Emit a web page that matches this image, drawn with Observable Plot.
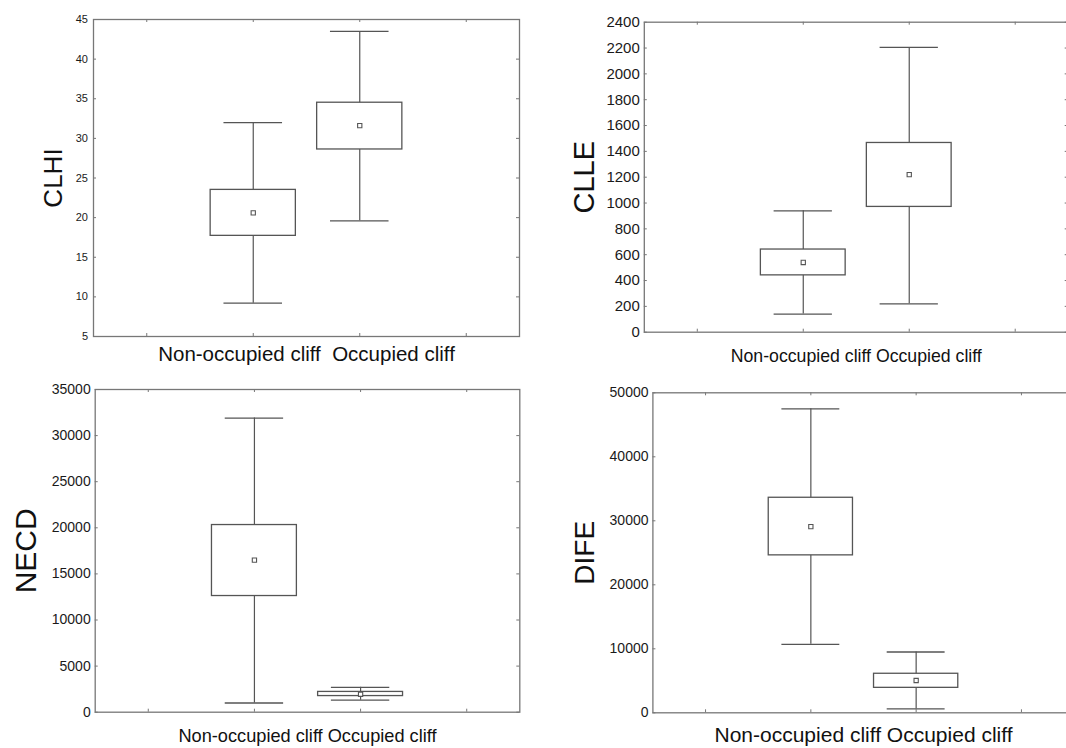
<!DOCTYPE html>
<html>
<head>
<meta charset="utf-8">
<script src="https://cdn.jsdelivr.net/npm/d3@7"></script>
<script src="https://cdn.jsdelivr.net/npm/@observablehq/plot@0.6"></script>
<style>
  html, body { margin: 0; padding: 0; background: #fff; width: 1066px; height: 748px; overflow: hidden; }
  #wrap { position: relative; width: 1066px; height: 748px; overflow: hidden; }
  .panel { position: absolute; }
</style>
</head>
<body>
<div id="wrap"></div>
<script>
// ---- data ----
const groups = ["Non-occupied cliff", "Occupied cliff"];
const xLabel = ["Non-occupied cliff  Occupied cliff", "Non-occupied cliff Occupied cliff"];
// stats per group: [whisker low, box low, mean, box high, whisker high]
const clhiValues = [[9.2, 17.7, 20.6, 23.5, 32.0], [19.6, 28.6, 31.6, 34.5, 43.5]];
const clleValues = [[140, 440, 540, 640, 940], [220, 970, 1220, 1465, 2205]];
const necdValues = [[1000, 12600, 16500, 20300, 31900], [1300, 1750, 1950, 2200, 2700]];
const difeValues = [[10700, 24600, 29100, 33600, 47500], [600, 3900, 5050, 6100, 9500]];
const clhiTicks = [5, 10, 15, 20, 25, 30, 35, 40, 45];
const clleTicks = [0, 200, 400, 600, 800, 1000, 1200, 1400, 1600, 1800, 2000, 2200, 2400];
const necdTicks = [0, 5000, 10000, 15000, 20000, 25000, 30000, 35000];
const difeTicks = [0, 10000, 20000, 30000, 40000, 50000];
const xTicks = [-1, 0, 1, 2];

const FONT = "'Liberation Sans', Arial, sans-serif";
const LINE = "#555";
const FRAME = "#777";
const TEXT = "#1a1a1a";

function rows(values) {
  return values.map((v, i) => ({
    group: groups[i], i,
    lo: v[0], q1: v[1], mean: v[2], q3: v[3], hi: v[4]
  }));
}

function panel(cfg) {
  const data = rows(cfg.values);
  const ticks = cfg.ticks;
  const pw = cfg.width - cfg.ml - cfg.mr;
  const ph = cfg.height - cfg.mt - cfg.mb;
  const half = 0.4, cap = 0.275, tk = 3;
  const chart = Plot.plot({
    width: cfg.width,
    height: cfg.height,
    marginLeft: cfg.ml,
    marginRight: cfg.mr,
    marginTop: cfg.mt,
    marginBottom: cfg.mb,
    style: { fontFamily: FONT, background: "transparent", overflow: "visible" },
    x: { type: "linear", domain: [-1.5, 2.5], axis: null },
    y: { domain: [ticks[0], ticks[ticks.length - 1]], axis: null },
    marks: [
      // y tick labels
      Plot.axisY(ticks, { anchor: "left", tickSize: 0, tickPadding: cfg.pad, fontSize: cfg.tickFont, color: TEXT, label: null, tickFormat: d => String(d) }),
      // inward tick marks (left, right, top, bottom)
      Plot.tickY(ticks, { y: d => d, stroke: FRAME, insetRight: pw - tk }),
      Plot.tickY(ticks, { y: d => d, stroke: FRAME, insetLeft: pw - tk }),
      Plot.tickX(xTicks, { x: d => d, stroke: FRAME, insetBottom: ph - tk }),
      Plot.tickX(xTicks, { x: d => d, stroke: FRAME, insetTop: ph - tk }),
      // whiskers
      Plot.ruleX(data, { x: "i", y1: "lo", y2: "hi", stroke: LINE, strokeWidth: 1.2 }),
      Plot.ruleY(data, { y: "lo", x1: d => d.i - cap, x2: d => d.i + cap, stroke: LINE, strokeWidth: 1.3 }),
      Plot.ruleY(data, { y: "hi", x1: d => d.i - cap, x2: d => d.i + cap, stroke: LINE, strokeWidth: 1.3 }),
      // boxes
      Plot.rect(data, { x1: d => d.i - half, x2: d => d.i + half, y1: "q1", y2: "q3", fill: "white", stroke: LINE, strokeWidth: 1.3 }),
      // mean
      Plot.dot(data, { x: "i", y: "mean", symbol: "square", r: 2.4, stroke: LINE, strokeWidth: 1.1, fill: "white" }),
      // frame
      Plot.frame({ stroke: FRAME, strokeWidth: 1.3 }),
      // y title
      Plot.text([cfg.title], { text: d => d, frameAnchor: "left", rotate: -90, dx: -cfg.titleDx, lineAnchor: "middle", textAnchor: "middle", fontSize: cfg.titleFont, fill: "#111" }),
      // x label
      Plot.text([cfg.xlab], { text: d => d, frameAnchor: "bottom", dy: cfg.xlabDy, lineAnchor: "middle", textAnchor: "middle", fontSize: cfg.xlabFont, fill: "#111" })
    ]
  });
  chart.classList.add("panel");
  chart.style.left = cfg.left + "px";
  chart.style.top = cfg.top + "px";
  document.getElementById("wrap").appendChild(chart);
}

panel({ values: clhiValues, ticks: clhiTicks, title: "CLHI", xlab: xLabel[0],
  left: 0, top: 0, width: 540, height: 372, ml: 93, mr: 21, mt: 19, mb: 36,
  pad: 5.5, tickFont: 11, titleDx: 40, titleFont: 26, xlabDy: 18, xlabFont: 20.5 });

panel({ values: clleValues, ticks: clleTicks, title: "CLLE", xlab: xLabel[1],
  left: 530, top: 0, width: 540, height: 372, ml: 113.8, mr: 2.3, mt: 21.7, mb: 40.3,
  pad: 4.5, tickFont: 15, titleDx: 60, titleFont: 29, xlabDy: 24.5, xlabFont: 17.7 });

panel({ values: necdValues, ticks: necdTicks, title: "NECD", xlab: xLabel[1],
  left: 0, top: 370, width: 540, height: 378, ml: 94.7, mr: 20.7, mt: 19, mb: 36.3,
  pad: 4.5, tickFont: 14, titleDx: 69, titleFont: 30, xlabDy: 23.5, xlabFont: 18.2 });

panel({ values: difeValues, ticks: difeTicks, title: "DIFE", xlab: xLabel[1],
  left: 530, top: 370, width: 545, height: 378, ml: 122.4, mr: 1.4, mt: 22.3, mb: 35.7,
  pad: 4.4, tickFont: 14, titleDx: 68, titleFont: 28, xlabDy: 22.5, xlabFont: 21 });
</script>
</body>
</html>
